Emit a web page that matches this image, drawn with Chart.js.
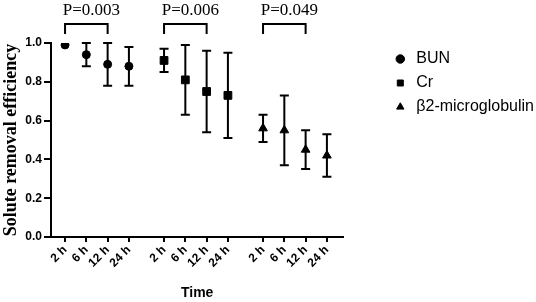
<!DOCTYPE html>
<html>
<head>
<meta charset="utf-8">
<script src="https://cdn.jsdelivr.net/npm/chart.js@4"></script>
<style>
  html, body { margin: 0; padding: 0; background: #fff; }
  #wrap { width: 536px; height: 302px; }
</style>
</head>
<body>
<div id="wrap"><canvas id="chart" width="536" height="302"></canvas></div>
<script>
// values
const timeLabels = ["2 h", "6 h", "12 h", "24 h"];
const soluteNames = ["BUN", "Cr", "β2-microglobulin"];
const pLabels = ["P=0.003", "P=0.006", "P=0.049"];

const bunMean = [0.99, 0.94, 0.89, 0.88];
const bunLow = [0.99, 0.88, 0.78, 0.78];
const bunHigh = [0.99, 1.0, 1.0, 0.98];

const crMean = [0.91, 0.81, 0.75, 0.73];
const crLow = [0.85, 0.63, 0.54, 0.51];
const crHigh = [0.97, 0.99, 0.96, 0.95];

const b2mMean = [0.56, 0.55, 0.45, 0.42];
const b2mLow = [0.49, 0.37, 0.35, 0.31];
const b2mHigh = [0.63, 0.73, 0.55, 0.53];

const GAP = 4.65; // distance between the start of each group on the x scale
const sans = "'Liberation Sans', Arial, sans-serif";
const serif = "'Liberation Serif', 'Times New Roman', serif";

const means = [bunMean, crMean, b2mMean];
const lows = [bunLow, crLow, b2mLow];
const highs = [bunHigh, crHigh, b2mHigh];
const styles = [
  { pointStyle: "circle", radius: 4 },
  { pointStyle: "rect", radius: 5.5 },
  { pointStyle: "triangle", radius: 5 },
];

const xPos = (g, i) => g * GAP + i;

const datasets = soluteNames.map((name, g) => ({
  label: name,
  data: means[g].map((y, i) => ({ x: xPos(g, i), y })),
  pointStyle: styles[g].pointStyle,
  pointRadius: styles[g].radius,
  backgroundColor: "#000",
  borderColor: "#000",
  showLine: false,
}));

// error bars + significance brackets
const extras = {
  id: "extras",
  afterDatasetsDraw(chart) {
    const { ctx } = chart;
    const xs = chart.scales.x;
    const ys = chart.scales.y;
    ctx.save();
    ctx.strokeStyle = "#000";
    ctx.fillStyle = "#000";
    ctx.lineWidth = 2;

    lows.forEach((low, g) => {
      low.forEach((lo, i) => {
        const hi = highs[g][i];
        if (hi - lo < 0.005) return;
        const x = xs.getPixelForValue(xPos(g, i));
        const y1 = ys.getPixelForValue(lo);
        const y2 = ys.getPixelForValue(hi);
        ctx.beginPath();
        ctx.moveTo(x, y1);
        ctx.lineTo(x, y2);
        ctx.moveTo(x - 4.5, y1);
        ctx.lineTo(x + 4.5, y1);
        ctx.moveTo(x - 4.5, y2);
        ctx.lineTo(x + 4.5, y2);
        ctx.stroke();
      });
    });

    pLabels.forEach((txt, g) => {
      const xa = xs.getPixelForValue(xPos(g, 0));
      const xb = xs.getPixelForValue(xPos(g, 2));
      const yTop = ys.getPixelForValue(1.098);
      const yLeg = ys.getPixelForValue(1.047);
      ctx.beginPath();
      ctx.moveTo(xa, yLeg);
      ctx.lineTo(xa, yTop);
      ctx.lineTo(xb, yTop);
      ctx.lineTo(xb, yLeg);
      ctx.stroke();
      ctx.font = "17px " + serif;
      ctx.textAlign = "center";
      ctx.textBaseline = "alphabetic";
      ctx.fillText(txt, (xa + xb) / 2 + 5, ys.getPixelForValue(1.145));
    });
    ctx.restore();
  },
};

Chart.defaults.color = "#000";

new Chart(document.getElementById("chart"), {
  type: "scatter",
  data: { datasets },
  plugins: [extras],
  options: {
    responsive: false,
    animation: false,
    layout: { padding: { top: 43, left: 0, right: -8, bottom: 0 } },
    plugins: {
      tooltip: { enabled: false },
      legend: {
        position: "right",
        align: "start",
        maxWidth: 200,
        labels: {
          usePointStyle: true,
          boxHeight: 6,
          padding: 8,
          color: "#000",
          font: { family: sans, size: 16 },
        },
      },
    },
    scales: {
      x: {
        type: "linear",
        min: -0.66,
        max: 13.07,
        afterBuildTicks: (scale) => {
          const ticks = [];
          soluteNames.forEach((_, g) =>
            timeLabels.forEach((_, i) => ticks.push({ value: xPos(g, i) }))
          );
          scale.ticks = ticks;
        },
        afterFit: (scale) => {
          scale.height = 65;
        },
        ticks: {
          autoSkip: false,
          minRotation: 45,
          maxRotation: 45,
          padding: 1,
          color: "#000",
          font: { family: sans, size: 12, weight: "bold" },
          callback: (v, i) => timeLabels[i % timeLabels.length],
        },
        grid: {
          drawOnChartArea: false,
          drawTicks: true,
          tickLength: 5,
          color: "#000",
          lineWidth: 2,
        },
        border: { display: true, color: "#000", width: 2 },
        title: {
          display: true,
          text: "Time",
          color: "#000",
          padding: { top: 0, bottom: 0 },
          font: { family: sans, size: 14, weight: "bold" },
        },
      },
      y: {
        min: 0,
        max: 1,
        afterFit: (scale) => {
          scale.width = 51;
        },
        ticks: {
          stepSize: 0.2,
          padding: 2,
          color: "#000",
          font: { family: sans, size: 12, weight: "bold" },
          callback: (v) => v.toFixed(1),
        },
        grid: {
          drawOnChartArea: false,
          drawTicks: true,
          tickLength: 7,
          color: "#000",
          lineWidth: 2,
        },
        border: { display: true, color: "#000", width: 2 },
        title: {
          display: true,
          text: "Solute removal efficiency",
          color: "#000",
          padding: { top: 1, bottom: 1 },
          font: { family: serif, size: 18, weight: "bold" },
        },
      },
      // empty axis that keeps the legend away from the plot
      gap: {
        type: "linear",
        position: "right",
        display: true,
        afterFit: (scale) => {
          scale.width = 41;
        },
        ticks: { display: false },
        grid: { display: false, drawTicks: false },
        border: { display: false },
      },
    },
  },
});
</script>
</body>
</html>
